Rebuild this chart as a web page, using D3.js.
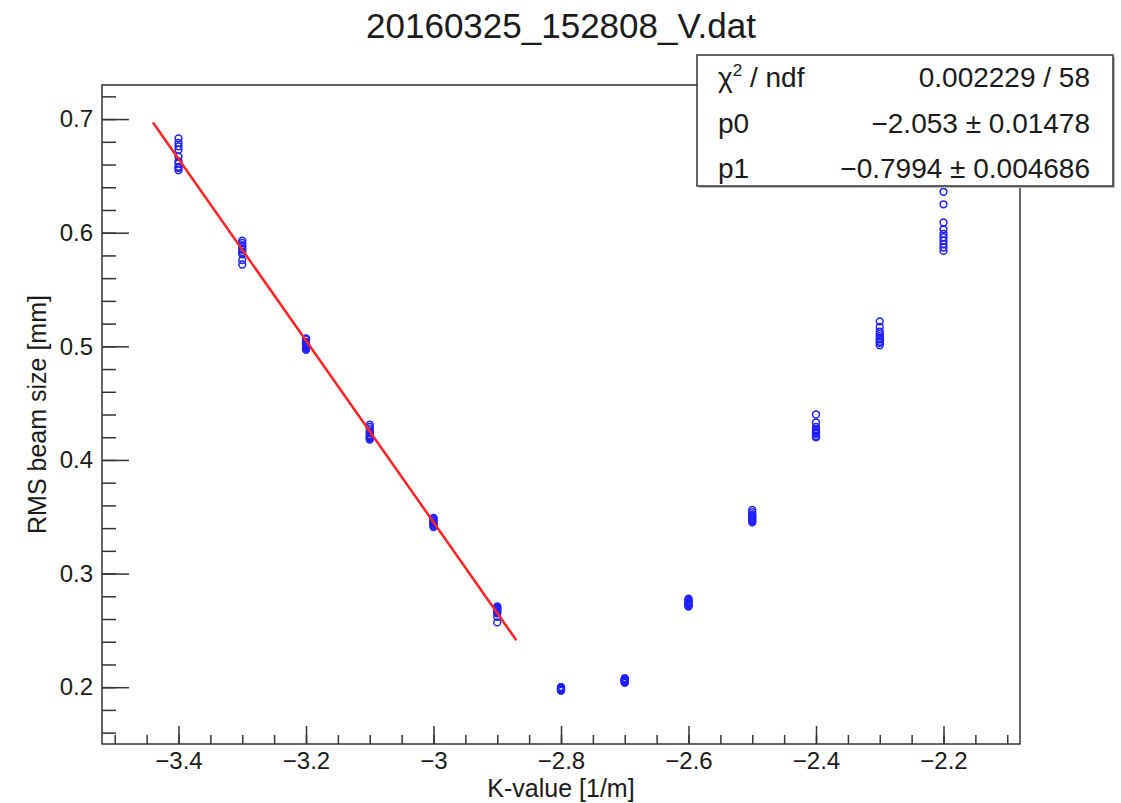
<!DOCTYPE html>
<html>
<head>
<meta charset="utf-8">
<script src="https://cdn.jsdelivr.net/npm/d3@7"></script>
<style>
  body { margin: 0; background: #fff; }
  text { font-family: "Liberation Sans", Arial, Helvetica, sans-serif; fill: #1a1a1a; }
  .axis path { display: none; }
  .axis line { stroke: #333; stroke-width: 1.5; }
</style>
</head>
<body>
<div id="app"></div>
<script>
// K values and the 10 RMS measurements taken at each one
const kValues = [-3.4, -3.3, -3.2, -3.1, -3.0, -2.9, -2.8, -2.7, -2.6, -2.5, -2.4, -2.3, -2.2];
const rmsK34 = [0.683, 0.679, 0.676, 0.673, 0.667, 0.663, 0.661, 0.658, 0.657, 0.655];
const rmsK33 = [0.593, 0.591, 0.589, 0.588, 0.586, 0.585, 0.583, 0.581, 0.576, 0.572];
const rmsK32 = [0.507, 0.506, 0.504, 0.503, 0.502, 0.501, 0.500, 0.499, 0.498, 0.497];
const rmsK31 = [0.431, 0.429, 0.427, 0.425, 0.424, 0.422, 0.421, 0.420, 0.419, 0.418];
const rmsK30 = [0.349, 0.348, 0.347, 0.346, 0.345, 0.344, 0.344, 0.343, 0.342, 0.341];
const rmsK29 = [0.271, 0.270, 0.270, 0.269, 0.268, 0.267, 0.266, 0.265, 0.262, 0.257];
const rmsK28 = [0.200, 0.200, 0.199, 0.199, 0.199, 0.198, 0.198, 0.198, 0.197, 0.197];
const rmsK27 = [0.208, 0.207, 0.207, 0.206, 0.206, 0.205, 0.205, 0.205, 0.204, 0.204];
const rmsK26 = [0.278, 0.277, 0.276, 0.275, 0.274, 0.274, 0.273, 0.272, 0.272, 0.271];
const rmsK25 = [0.356, 0.354, 0.352, 0.351, 0.350, 0.349, 0.348, 0.347, 0.346, 0.345];
const rmsK24 = [0.440, 0.433, 0.429, 0.427, 0.426, 0.425, 0.424, 0.423, 0.421, 0.420];
const rmsK23 = [0.522, 0.517, 0.513, 0.511, 0.509, 0.507, 0.506, 0.504, 0.503, 0.501];
const rmsK22 = [0.636, 0.625, 0.609, 0.603, 0.599, 0.596, 0.593, 0.590, 0.587, 0.584];
const rmsSeries = [rmsK34, rmsK33, rmsK32, rmsK31, rmsK30, rmsK29, rmsK28, rmsK27, rmsK26, rmsK25, rmsK24, rmsK23, rmsK22];

// linear fit  y = p0 + p1 * k
const fitRange = [-3.44, -2.87];
const p0 = -2.053;
const p1 = -0.7994;
const statsRows = [
    ["chi2", "0.002229 / 58"],
    ["p0", "\u22122.053 \u00b1 0.01478"],
    ["p1", "\u22120.7994 \u00b1 0.004686"],
];

const xMajorTicks = [-3.4, -3.2, -3, -2.8, -2.6, -2.4, -2.2];
const yMajorTicks = [0.2, 0.3, 0.4, 0.5, 0.6, 0.7];

const W = 1121, H = 803;
const frame = { left: 102, right: 1020, top: 85, bottom: 744 };

const svg = d3.select("#app").append("svg")
    .attr("width", W).attr("height", H);

const x = d3.scaleLinear().domain([-3.52, -2.08]).range([frame.left, frame.right]);
const y = d3.scaleLinear().domain([0.15, 0.73]).range([frame.bottom, frame.top]);

const fmt = d3.format("~g");

// minor ticks (no labels)
svg.append("g").attr("class", "axis")
    .attr("transform", `translate(0,${frame.bottom})`)
    .call(d3.axisBottom(x).ticks(30).tickSizeInner(-9).tickSizeOuter(0).tickFormat(""));
svg.append("g").attr("class", "axis")
    .attr("transform", `translate(${frame.left},0)`)
    .call(d3.axisLeft(y).ticks(30).tickSizeInner(-14).tickSizeOuter(0).tickFormat(""));

// major ticks
svg.append("g").attr("class", "axis")
    .attr("transform", `translate(0,${frame.bottom})`)
    .call(d3.axisBottom(x).tickValues(xMajorTicks).tickSizeInner(-18).tickSizeOuter(0)
        .tickPadding(8).tickFormat(fmt))
    .selectAll("text").style("font-size", "24px").attr("fill", "#1a1a1a");
svg.append("g").attr("class", "axis")
    .attr("transform", `translate(${frame.left},0)`)
    .call(d3.axisLeft(y).tickValues(yMajorTicks).tickSizeInner(-27).tickSizeOuter(0)
        .tickPadding(9).tickFormat(fmt))
    .selectAll("text").style("font-size", "24px").attr("fill", "#1a1a1a");

// frame
svg.append("rect")
    .attr("x", frame.left).attr("y", frame.top)
    .attr("width", frame.right - frame.left).attr("height", frame.bottom - frame.top)
    .attr("fill", "none").attr("stroke", "#333").attr("stroke-width", 1.5);

// data points (open circles)
const points = kValues.flatMap((k, i) => rmsSeries[i].map((v) => ({ k, v })));
svg.append("g").selectAll("circle")
    .data(points).enter().append("circle")
    .attr("cx", (d) => x(d.k)).attr("cy", (d) => y(d.v))
    .attr("r", 3.4)
    .attr("fill", "none").attr("stroke", "#1f1fff").attr("stroke-width", 1.5);

// fit line
const fitLine = d3.line().x((k) => x(k)).y((k) => y(p0 + p1 * k));
svg.append("path")
    .attr("d", fitLine(fitRange))
    .attr("fill", "none").attr("stroke", "#f22").attr("stroke-width", 2.5);

// title and axis titles
svg.append("text")
    .attr("x", 561).attr("y", 38).attr("text-anchor", "middle")
    .style("font-size", "35px").text("20160325_152808_V.dat");
svg.append("text")
    .attr("x", (frame.left + frame.right) / 2).attr("y", 797).attr("text-anchor", "middle")
    .style("font-size", "25px").text("K-value [1/m]");
svg.append("text")
    .attr("transform", `translate(46,${(frame.top + frame.bottom) / 2}) rotate(-90)`)
    .attr("text-anchor", "middle")
    .style("font-size", "25px").text("RMS beam size [mm]");

// stats box
const box = { x: 697, y: 55, w: 416, h: 131 };
svg.append("rect")
    .attr("x", box.x + 2).attr("y", box.y + 2).attr("width", box.w).attr("height", box.h)
    .attr("fill", "#bbb");
svg.append("rect")
    .attr("x", box.x).attr("y", box.y).attr("width", box.w).attr("height", box.h)
    .attr("fill", "#fff").attr("stroke", "#333").attr("stroke-width", 1.5);

const rowY = d3.scalePoint().domain(statsRows.map((r) => r[0])).range([87, 178]);
const rows = svg.append("g").selectAll("g").data(statsRows).enter().append("g");
rows.append("text")
    .attr("x", 1090).attr("y", (d) => rowY(d[0])).attr("text-anchor", "end")
    .style("font-size", "28px").text((d) => d[1]);
rows.each(function (d) {
    const t = d3.select(this).append("text")
        .attr("x", 718).attr("y", rowY(d[0])).style("font-size", "28px");
    if (d[0] === "chi2") {
        t.append("tspan").text("\u03c7");
        t.append("tspan").attr("dy", -11).style("font-size", "17px").text("2");
        t.append("tspan").attr("dy", 11).text(" / ndf");
    } else {
        t.text(d[0]);
    }
});
</script>
</body>
</html>
